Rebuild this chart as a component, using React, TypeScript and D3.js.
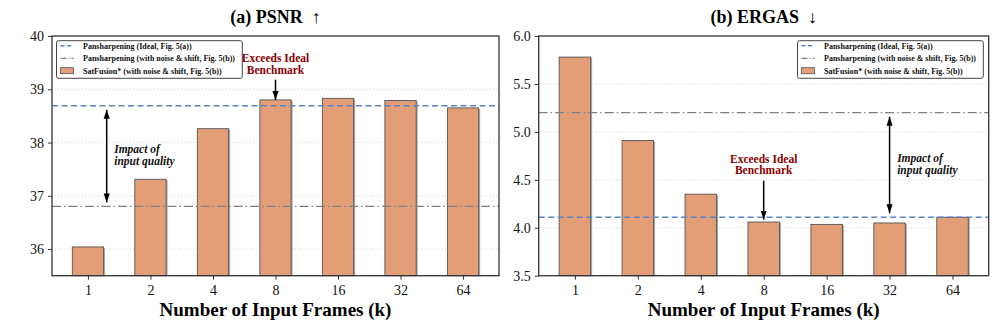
import * as d3 from 'd3';
import React, { useEffect, useRef } from 'react';

// data
const frames = ['1', '2', '4', '8', '16', '32', '64'];
const psnrValues = [36.04, 37.31, 38.26, 38.80, 38.83, 38.79, 38.65];
const ergasValues = [5.78, 4.91, 4.35, 4.06, 4.035, 4.05, 4.11];
const psnrIdeal = 38.69;
const psnrNoisy = 36.80;
const ergasIdeal = 4.11;
const ergasNoisy = 5.20;
const psnrTicks = [36, 37, 38, 39, 40];
const ergasTicks = [3.5, 4.0, 4.5, 5.0, 5.5, 6.0];
const legendLabels = [
    'Pansharpening (Ideal, Fig. 5(a))',
    'Pansharpening (with noise & shift, Fig. 5(b))',
    'SatFusion* (with noise & shift, Fig. 5(b))'
];

const W = 996;
const H = 327;
const SERIF = '"Liberation Serif", "Times New Roman", serif';
const BAR_FILL = '#E39E77';
const IDEAL_COLOR = '#5B84C4';
const NOISY_COLOR = '#808080';
const DARK_RED = '#8B0000';

const panels = [
    {
        title: '(a) PSNR  \u2191',
        values: psnrValues,
        ideal: psnrIdeal,
        noisy: psnrNoisy,
        ticks: psnrTicks,
        domain: [35.5, 40],
        fmt: d3.format('d'),
        left: 52, right: 499,
        legendX: 56.5,
        exceed: { cat: 3, textY: [39.59, 39.37], arrowFrom: 39.18, arrowTo: 38.80 },
        impact: { x: 0.3, textX: 0.42, textY: [37.87, 37.65] }
    },
    {
        title: '(b) ERGAS  \u2193',
        values: ergasValues,
        ideal: ergasIdeal,
        noisy: ergasNoisy,
        ticks: ergasTicks,
        domain: [3.5, 6.0],
        fmt: d3.format('.1f'),
        left: 538.7, right: 988.7,
        legendX: 797.5,
        exceed: { cat: 3, textY: [4.72, 4.60], arrowFrom: 4.49, arrowTo: 4.085 },
        impact: { x: 5.0, textX: 5.12, textY: [4.73, 4.60] }
    }
];

const top = 36;
const bottom = 275.7;

export default function App() {
    const ref = useRef<SVGSVGElement>(null);

    useEffect(() => {
        const svg = d3.select(ref.current);
        svg.selectAll('*').remove();

        const defs = svg.append('defs');
        defs.append('marker')
            .attr('id', 'head')
            .attr('viewBox', '0 0 10 10')
            .attr('refX', 10)
            .attr('refY', 5)
            .attr('markerWidth', 9)
            .attr('markerHeight', 9)
            .attr('markerUnits', 'userSpaceOnUse')
            .attr('orient', 'auto-start-reverse')
            .append('path')
            .attr('d', 'M0,1.6 L10,5 L0,8.4 z')
            .attr('fill', '#000');

        panels.forEach(p => {
            const x = d3.scaleLinear().domain([-0.575, 6.575]).range([p.left, p.right]);
            const y = d3.scaleLinear().domain(p.domain).range([bottom, top]);
            const g = svg.append('g');
            const barW = x(0.25) - x(-0.25);

            // grid
            g.selectAll('line.grid')
                .data(p.ticks)
                .enter()
                .append('line')
                .attr('x1', p.left)
                .attr('x2', p.right)
                .attr('y1', d => y(d))
                .attr('y2', d => y(d))
                .style('stroke', '#c8c8c8')
                .style('stroke-width', 0.8)
                .style('stroke-dasharray', '1,2');

            // bar shadows + bars
            g.selectAll('rect.shadow')
                .data(p.values)
                .enter()
                .append('rect')
                .attr('x', (d, i) => x(i) - barW / 2 + 1.5)
                .attr('y', d => y(d) + 1)
                .attr('width', barW)
                .attr('height', d => bottom - y(d) - 1)
                .style('fill', '#a8a8a8');

            g.selectAll('rect.bar')
                .data(p.values)
                .enter()
                .append('rect')
                .attr('x', (d, i) => x(i) - barW / 2)
                .attr('y', d => y(d))
                .attr('width', barW)
                .attr('height', d => bottom - y(d))
                .style('fill', BAR_FILL)
                .style('stroke', '#555')
                .style('stroke-width', 0.9);

            // reference lines
            g.append('line')
                .attr('x1', p.left).attr('x2', p.right)
                .attr('y1', y(p.ideal)).attr('y2', y(p.ideal))
                .style('stroke', IDEAL_COLOR)
                .style('stroke-width', 1.5)
                .style('stroke-dasharray', '6,3.5');

            g.append('line')
                .attr('x1', p.left).attr('x2', p.right)
                .attr('y1', y(p.noisy)).attr('y2', y(p.noisy))
                .style('stroke', NOISY_COLOR)
                .style('stroke-width', 1.3)
                .style('stroke-dasharray', '9,3,1.5,3');

            // axes
            const yAxis = g.append('g')
                .attr('transform', `translate(${p.left},0)`)
                .call(d3.axisLeft(y).tickValues(p.ticks).tickFormat(p.fmt as any).tickSize(4).tickPadding(4));
            const xAxis = g.append('g')
                .attr('transform', `translate(0,${bottom})`)
                .call(d3.axisBottom(x).tickValues(d3.range(frames.length)).tickFormat((d: any) => frames[d]).tickSize(4).tickPadding(5));
            [yAxis, xAxis].forEach(a => {
                a.select('.domain').remove();
                a.selectAll('text')
                    .style('font-family', SERIF)
                    .style('font-size', '14px')
                    .style('fill', '#111');
                a.selectAll('line').style('stroke', '#333').style('stroke-width', 1);
            });

            g.append('rect')
                .attr('x', p.left)
                .attr('y', top)
                .attr('width', p.right - p.left)
                .attr('height', bottom - top)
                .style('fill', 'none')
                .style('stroke', '#333')
                .style('stroke-width', 1.3);

            // titles
            g.append('text')
                .attr('x', (p.left + p.right) / 2)
                .attr('y', 22.5)
                .attr('text-anchor', 'middle')
                .style('font-family', SERIF)
                .style('font-weight', 'bold')
                .style('font-size', '18px')
                .style('white-space', 'pre')
                .text(p.title);

            g.append('text')
                .attr('x', (p.left + p.right) / 2)
                .attr('y', 315.5)
                .attr('text-anchor', 'middle')
                .style('font-family', SERIF)
                .style('font-weight', 'bold')
                .style('font-size', '19px')
                .text('Number of Input Frames (k)');

            // "Exceeds Ideal Benchmark"
            const ex = p.exceed;
            ['Exceeds Ideal', 'Benchmark'].forEach((t, i) => {
                g.append('text')
                    .attr('x', x(ex.cat))
                    .attr('y', y(ex.textY[i]) + 4)
                    .attr('text-anchor', 'middle')
                    .style('font-family', SERIF)
                    .style('font-weight', 'bold')
                    .style('font-size', '11.5px')
                    .style('fill', DARK_RED)
                    .text(t);
            });
            g.append('line')
                .attr('x1', x(ex.cat)).attr('x2', x(ex.cat))
                .attr('y1', y(ex.arrowFrom)).attr('y2', y(ex.arrowTo))
                .style('stroke', '#000')
                .style('stroke-width', 1.5)
                .attr('marker-end', 'url(#head)');

            // "Impact of input quality"
            const im = p.impact;
            const s = p.ideal > p.noisy ? 4 : -4;
            g.append('line')
                .attr('x1', x(im.x)).attr('x2', x(im.x))
                .attr('y1', y(p.ideal) + s)
                .attr('y2', y(p.noisy) - s)
                .style('stroke', '#000')
                .style('stroke-width', 1.5)
                .attr('marker-start', 'url(#head)')
                .attr('marker-end', 'url(#head)');
            ['Impact of', 'input quality'].forEach((t, i) => {
                g.append('text')
                    .attr('x', x(im.textX))
                    .attr('y', y(im.textY[i]) + 4)
                    .style('font-family', SERIF)
                    .style('font-weight', 'bold')
                    .style('font-style', 'italic')
                    .style('font-size', '11.5px')
                    .style('fill', '#111')
                    .text(t);
            });

            // legend
            const lg = g.append('g').attr('transform', `translate(${p.legendX},40.7)`);
            lg.append('rect')
                .attr('width', 185.8)
                .attr('height', 37.6)
                .attr('rx', 2)
                .style('fill', 'rgba(255,255,255,0.9)')
                .style('stroke', '#444')
                .style('stroke-width', 1);
            const rowY = [5, 17.6, 30];
            lg.append('line')
                .attr('x1', 4).attr('x2', 17)
                .attr('y1', rowY[0]).attr('y2', rowY[0])
                .style('stroke', IDEAL_COLOR).style('stroke-width', 1.5)
                .style('stroke-dasharray', '4,2.5');
            lg.append('line')
                .attr('x1', 4).attr('x2', 17)
                .attr('y1', rowY[1]).attr('y2', rowY[1])
                .style('stroke', NOISY_COLOR).style('stroke-width', 1.2)
                .style('stroke-dasharray', '6,2,1,2');
            lg.append('rect')
                .attr('x', 4).attr('y', rowY[2] - 3)
                .attr('width', 13).attr('height', 6)
                .style('fill', BAR_FILL).style('stroke', '#555').style('stroke-width', 0.8);
            legendLabels.forEach((t, i) => {
                lg.append('text')
                    .attr('x', 26.5)
                    .attr('y', rowY[i] + 3)
                    .style('font-family', SERIF)
                    .style('font-weight', 'bold')
                    .style('font-size', '8px')
                    .style('fill', '#111')
                    .text(t);
            });
        });
    }, []);

    return (
        <div style={{ position: 'absolute', left: 0, top: 0, background: '#fff' }}>
            <svg ref={ref} width={W} height={H} style={{ display: 'block' }}></svg>
        </div>
    );
}
